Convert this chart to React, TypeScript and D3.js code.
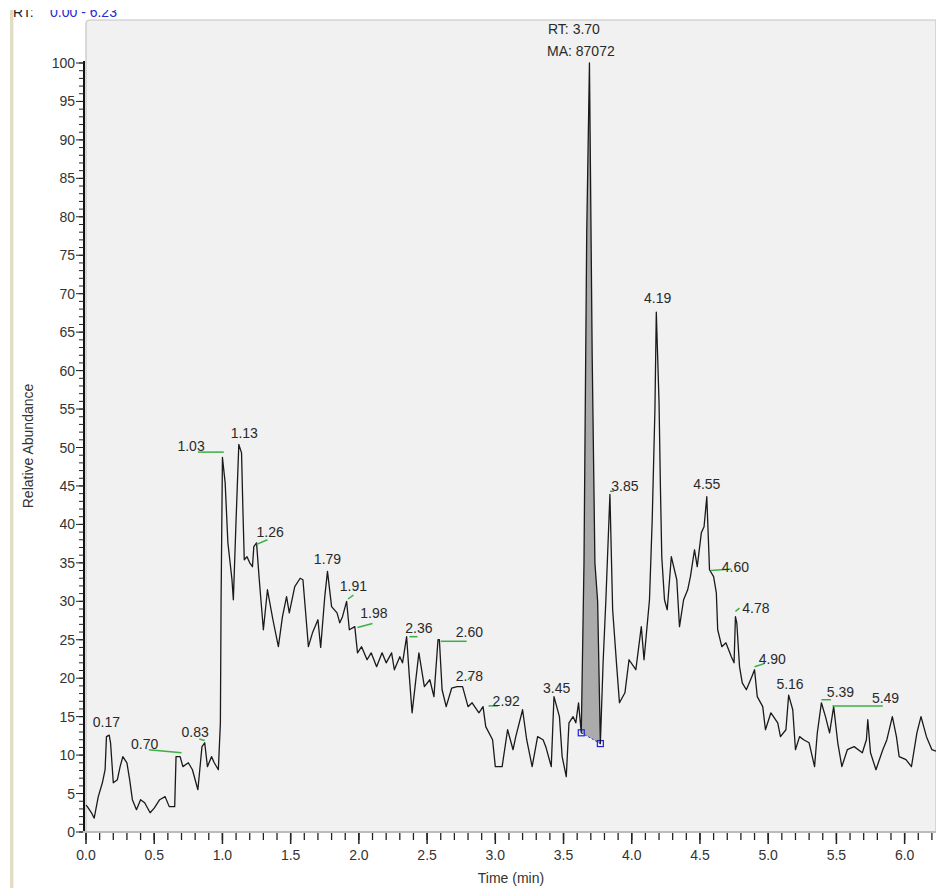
import React from "react";
import * as d3 from "d3";

const times = [0.00,0.01,0.04,0.06,0.09,0.12,0.14,0.15,0.17,0.18,0.20,0.23,0.25,0.27,0.30,0.32,0.34,0.37,0.40,0.43,0.47,0.50,0.54,0.58,0.61,0.65,0.66,0.69,0.71,0.75,0.78,0.82,0.85,0.87,0.89,0.92,0.94,0.97,0.985,0.99,1.00,1.02,1.04,1.07,1.08,1.10,1.12,1.14,1.15,1.16,1.18,1.20,1.22,1.23,1.25,1.27,1.30,1.33,1.37,1.41,1.44,1.47,1.49,1.53,1.57,1.59,1.62,1.63,1.66,1.70,1.72,1.75,1.77,1.80,1.84,1.86,1.88,1.91,1.93,1.97,1.99,2.02,2.06,2.09,2.13,2.17,2.20,2.24,2.26,2.30,2.32,2.35,2.37,2.39,2.42,2.44,2.48,2.52,2.55,2.58,2.59,2.61,2.64,2.68,2.72,2.76,2.80,2.83,2.88,2.91,2.93,2.98,3.00,3.05,3.09,3.13,3.15,3.20,3.23,3.27,3.31,3.35,3.37,3.41,3.43,3.47,3.49,3.52,3.54,3.57,3.59,3.61,3.63,3.65,3.67,3.69,3.71,3.73,3.75,3.77,3.79,3.81,3.84,3.86,3.89,3.91,3.95,3.98,4.03,4.07,4.09,4.13,4.15,4.17,4.18,4.20,4.21,4.22,4.24,4.26,4.29,4.33,4.35,4.38,4.41,4.43,4.46,4.48,4.51,4.53,4.55,4.57,4.60,4.62,4.63,4.66,4.69,4.73,4.75,4.76,4.77,4.79,4.81,4.84,4.88,4.90,4.92,4.96,4.98,5.02,5.07,5.09,5.13,5.15,5.18,5.20,5.23,5.26,5.30,5.34,5.36,5.39,5.42,5.45,5.48,5.51,5.54,5.58,5.63,5.69,5.72,5.73,5.75,5.79,5.84,5.87,5.91,5.94,5.96,6.01,6.05,6.09,6.12,6.16,6.20,6.23];

const abundance = [3.5,3.3,2.5,1.8,4.6,6.4,8.1,12.4,12.6,11.6,6.4,6.8,8.5,9.8,9.0,6.8,4.2,2.9,4.2,3.8,2.5,3.1,4.2,4.6,3.3,3.3,9.8,9.8,8.5,9.0,8.1,5.5,11.1,11.6,8.5,9.8,9.0,8.1,14.2,30,48.7,45.4,37.6,32.8,30.2,40.6,50.4,49.3,41.9,35.4,35.8,35.0,34.5,37.1,37.6,32.8,26.3,31.5,27.6,24.1,28.0,30.6,28.5,31.9,33.0,32.8,26.3,24.1,25.9,27.6,24.0,30.6,33.9,29.3,28.5,27.2,28.0,30.0,26.3,26.7,23.3,24.1,22.4,23.3,21.5,23.3,22.0,23.3,21.1,22.8,22.0,25.4,20.2,15.5,20.2,23.3,18.9,19.8,17.6,25.0,25.0,18.5,16.3,18.7,18.9,18.9,16.3,16.8,15.5,16.3,13.7,12.0,8.5,8.5,13.3,10.7,12.4,15.9,12.0,8.5,12.4,12.0,11.1,8.5,17.6,15.0,9.8,7.2,14.2,15.0,14.2,16.8,12.9,35,78,100,62,35,30,11.5,22,30,43.9,28.9,21.5,16.8,18.1,22.4,21.1,26.7,22.4,30.2,40.6,55,67.6,55.9,45,35.8,30.2,28.9,35.8,32.8,26.7,30.2,31.5,33.2,36.7,34.5,38.9,39.7,43.6,34.1,33.2,31.1,26.3,24.1,24.6,22.8,22.0,28.0,27.2,21.5,19.4,18.5,20.2,21.1,17.6,16.3,13.3,15.5,14.2,12.4,13.3,17.8,15.9,10.7,12.4,12.0,11.6,8.5,12.9,16.8,15.0,12.9,16.3,11.6,8.5,10.7,11.1,10.3,12.0,14.6,10.3,8.1,10.7,12.0,15.0,12.4,9.8,9.4,8.5,12.9,15.0,12.4,10.7,10.5];

// peak labels (text, and where they sit in the picture: time, abundance)
const labelTexts = ["0.17","0.70","0.83","1.03","1.13","1.26","1.79","1.91","1.98","2.36","2.60","2.78","2.92","3.45","3.85","4.19","4.55","4.60","4.78","4.90","5.16","5.39","5.49"];
const labelTimes = [0.15,0.43,0.80,0.77,1.16,1.35,1.77,1.96,2.11,2.44,2.81,2.81,3.08,3.45,3.95,4.19,4.55,4.76,4.91,5.03,5.16,5.53,5.86];
const labelValues = [13.6,10.8,12.4,49.6,51.3,38.4,34.8,31.4,27.8,25.9,25.4,19.7,16.4,18.1,44.3,68.8,44.6,33.8,28.5,21.9,18.6,17.6,16.8];

// green baseline marks: start time, end time, start value, end value
const markT0 = [0.46,0.83,0.82,1.25,1.92,1.99,2.37,2.60,2.80,2.95,3.84,4.58,4.76,4.90,5.39,5.47];
const markT1 = [0.70,0.87,1.01,1.33,1.96,2.10,2.43,2.79,2.82,3.02,3.87,4.73,4.79,4.97,5.46,5.84];
const markV0 = [10.7,12.1,49.4,37.4,30.3,26.6,25.4,24.8,19.8,16.4,44.3,34.0,28.7,21.5,17.2,16.4];
const markV1 = [10.3,11.9,49.4,38.0,30.8,27.1,25.4,24.8,20.2,16.4,44.3,34.2,29.1,21.9,17.2,16.4];

const mainPeak = { rt: "3.70", ma: "87072", start: 3.63, end: 3.77, startV: 12.9, endV: 11.5 };

const yMajor = d3.range(0, 101, 5);
const yMinor = d3.range(0, 101, 1);
const xMajor = d3.range(0, 6.01, 0.5);
const xMinor = d3.range(0, 6.23, 0.1);

export default function App() {
  const W = 936, H = 888;
  const x = d3.scaleLinear().domain([0, 6.23]).range([86, 936]);
  const y = d3.scaleLinear().domain([0, 100]).range([832, 63]);
  const pts = times.map((t, i) => [t, abundance[i]] as [number, number]);
  const line = d3.line<[number, number]>().x(d => x(d[0])).y(d => y(d[1]));
  const peakPts = pts.filter(p => p[0] >= mainPeak.start - 1e-9 && p[0] <= mainPeak.end + 1e-9);
  const areaPts: [number, number][] = [...peakPts, [mainPeak.end, mainPeak.endV], [mainPeak.start, mainPeak.startV]];
  const font = "'Liberation Sans', Arial, sans-serif";
  const axisX = 84;
  return (
    <svg width={W} height={H} style={{ position: "absolute", left: 0, top: 0, background: "#fff" }}>
      <rect x={0} y={0} width={W} height={H} fill="#ffffff" />
      {/* left window strip */}
      <rect x={10} y={10} width={3} height={H} fill="#e2dcc4" />
      <line x1={13.5} y1={10} x2={13.5} y2={H} stroke="#f4f1e6" />
      {/* plot background */}
      <path d={`M86,${H - 56} L86,24 Q86,20 90,20 L936,20 L936,832 Z`} fill="#f1f1f1" stroke="#c4c4c4" strokeWidth={1.2} />
      {/* header */}
      <text x={13} y={17} fontFamily={font} fontSize={14} fill="#222">RT:</text>
      <text x={50} y={17} fontFamily={font} fontSize={14} fill="#2a2ad0">0.00 - 6.23</text>
      <rect x={0} y={0} width={W} height={10} fill="#fff" />

      {/* shaded main peak */}
      <path d={line(areaPts) + "Z"} fill="#ababab" stroke="none" />
      <line x1={x(mainPeak.start)} y1={y(mainPeak.startV)} x2={x(mainPeak.end)} y2={y(mainPeak.endV)} stroke="#2020e0" strokeDasharray="2,2" strokeWidth={1} />
      <rect x={x(mainPeak.start) - 3} y={y(mainPeak.startV) - 3} width={6} height={6} fill="none" stroke="#2020e0" strokeWidth={1.2} />
      <rect x={x(mainPeak.end) - 3} y={y(mainPeak.endV) - 3} width={6} height={6} fill="none" stroke="#2020e0" strokeWidth={1.2} />

      {/* trace */}
      <path d={line(pts) || ""} fill="none" stroke="#1a1a1a" strokeWidth={1.3} strokeLinejoin="round" />

      {/* green baseline marks */}
      {markT0.map((t0, i) => (
        <line key={"m" + i} x1={x(t0)} y1={y(markV0[i])} x2={x(markT1[i])} y2={y(markV1[i])} stroke="#3cb043" strokeWidth={1.5} />
      ))}

      {/* peak labels */}
      {labelTexts.map((s, i) => (
        <text key={"l" + i} x={x(labelTimes[i])} y={y(labelValues[i])} textAnchor="middle" fontFamily={font} fontSize={14} fill="#2a2a2a">{s}</text>
      ))}
      <text x={548} y={34} fontFamily={font} fontSize={14} fill="#2a2a2a">RT: {mainPeak.rt}</text>
      <text x={547} y={56} fontFamily={font} fontSize={14} fill="#2a2a2a">MA: {mainPeak.ma}</text>

      {/* y axis */}
      <line x1={axisX} y1={y(100) - 2} x2={axisX} y2={y(0) + 1} stroke="#111" strokeWidth={2} />
      {yMinor.map(v => (
        <line key={"ym" + v} x1={axisX - 5} x2={axisX} y1={y(v)} y2={y(v)} stroke="#222" strokeWidth={1} />
      ))}
      {yMajor.map(v => (
        <g key={"yM" + v}>
          <line x1={axisX - 8} x2={axisX} y1={y(v)} y2={y(v)} stroke="#222" strokeWidth={1} />
          <text x={axisX - 9} y={y(v) + 5} textAnchor="end" fontFamily={font} fontSize={14} fill="#333">{v}</text>
        </g>
      ))}
      <text transform={`translate(33,446) rotate(-90)`} textAnchor="middle" fontFamily={font} fontSize={14} fill="#333">Relative Abundance</text>

      {/* x axis */}
      <line x1={axisX - 1} x2={W} y1={832} y2={832} stroke="#bcbcbc" strokeWidth={2} />
      {xMinor.map(t => (
        <line key={"xm" + t} x1={x(t)} x2={x(t)} y1={833} y2={840} stroke="#222" strokeWidth={1.3} />
      ))}
      {xMajor.map(t => (
        <g key={"xM" + t}>
          <line x1={x(t)} x2={x(t)} y1={833} y2={844} stroke="#222" strokeWidth={1.5} />
          <text x={x(t)} y={860} textAnchor="middle" fontFamily={font} fontSize={14} fill="#333">{t.toFixed(1)}</text>
        </g>
      ))}
      <text x={511} y={883} textAnchor="middle" fontFamily={font} fontSize={14} fill="#333">Time (min)</text>
    </svg>
  );
}
